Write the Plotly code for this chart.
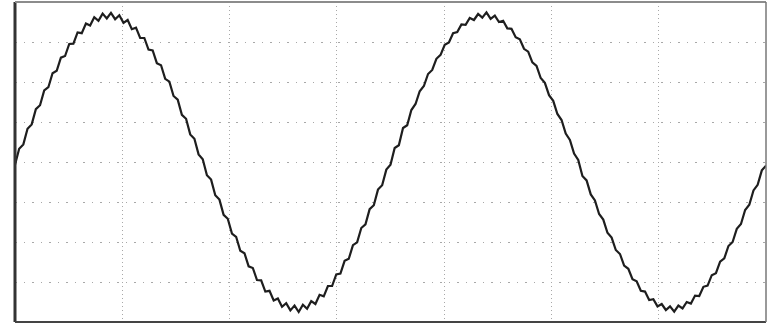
import numpy as np
import plotly.graph_objects as go

# Oscilloscope trace (vertical divisions, centre = 0)
trace_first_cycle = [
    -0.07,
    0.33, 0.44, 0.83, 0.94, 1.32, 1.42, 1.79, 1.87, 2.22, 2.28,
    2.61, 2.65, 2.95, 2.96, 3.24, 3.22, 3.46, 3.41, 3.62, 3.53,
    3.71, 3.59, 3.73, 3.57, 3.67, 3.48, 3.55, 3.32, 3.36, 3.10,
    3.10, 2.81, 2.79, 2.47, 2.42, 2.08, 2.01, 1.65, 1.56, 1.18,
    1.08, 0.69, 0.58, 0.19, 0.07,
    -0.33, -0.44, -0.83, -0.94, -1.32, -1.42, -1.79, -1.87, -2.22, -2.28,
    -2.61, -2.65, -2.95, -2.96, -3.24, -3.22, -3.46, -3.41, -3.62, -3.53,
    -3.71, -3.59, -3.75, -3.57, -3.67, -3.48, -3.55, -3.32, -3.36, -3.10,
    -3.10, -2.81, -2.79, -2.47, -2.42, -2.08, -2.01, -1.65, -1.56, -1.18,
    -1.08, -0.69, -0.58, -0.19, -0.07,
]
trace_second_cycle = [
    0.35, 0.42, 0.85, 0.92, 1.30, 1.45, 1.77, 1.90, 2.20, 2.30,
    2.58, 2.68, 2.93, 2.99, 3.22, 3.25, 3.44, 3.43, 3.60, 3.55,
    3.70, 3.61, 3.74, 3.58, 3.66, 3.50, 3.53, 3.34, 3.33, 3.12,
    3.07, 2.83, 2.76, 2.49, 2.40, 2.10, 1.98, 1.67, 1.53, 1.20,
    1.05, 0.71, 0.55, 0.21, 0.05,
    -0.35, -0.46, -0.81, -0.96, -1.30, -1.44, -1.77, -1.89, -2.20, -2.30,
    -2.59, -2.67, -2.93, -2.98, -3.22, -3.24, -3.45, -3.43, -3.61, -3.55,
    -3.70, -3.61, -3.74, -3.59, -3.66, -3.50, -3.54, -3.34, -3.35, -3.12,
    -3.09, -2.83, -2.78, -2.49, -2.41, -2.10, -2.00, -1.67, -1.55, -1.20,
    -1.07, -0.71, -0.57, -0.21, -0.09,
]
trace_values = trace_first_cycle + trace_second_cycle

# horizontal divisions covered by the screen
time_divs = 7
volt_divs = 8
time_axis = np.linspace(0, time_divs, len(trace_values))

fig = go.Figure()
fig.add_trace(go.Scatter(
    x=time_axis, y=trace_values, mode="lines",
    line=dict(color="#1e1e1e", width=2.2),
    hoverinfo="skip", showlegend=False,
))

fig.update_xaxes(
    range=[0, time_divs], dtick=1, showticklabels=False, ticks="",
    showgrid=True, gridcolor="#a8a8a8", gridwidth=1, griddash="1px,3px",
    zeroline=False, showline=False,
)
fig.update_yaxes(
    range=[-volt_divs / 2, volt_divs / 2], dtick=1, showticklabels=False, ticks="",
    showgrid=True, gridcolor="#a8a8a8", gridwidth=1, griddash="1.5px,7px",
    zeroline=False, showline=False,
)

frame = [
    dict(x0=0, x1=0, y0=0, y1=1, color="#333333", width=3),
    dict(x0=0, x1=1, y0=0, y1=0, color="#444444", width=2),
    dict(x0=0, x1=1, y0=1, y1=1, color="#8c8c8c", width=2),
    dict(x0=1, x1=1, y0=0, y1=1, color="#777777", width=1.5),
]
for s in frame:
    fig.add_shape(type="line", xref="paper", yref="paper",
                  x0=s["x0"], x1=s["x1"], y0=s["y0"], y1=s["y1"],
                  line=dict(color=s["color"], width=s["width"]), layer="above")

fig.update_layout(
    width=767, height=325,
    margin=dict(l=15, r=1, t=2, b=3),
    paper_bgcolor="white", plot_bgcolor="white",
)

fig.write_html(
    "out.html",
    config={"displayModeBar": False, "staticPlot": True},
    post_script="document.body.style.margin='0';document.body.style.overflow='hidden';",
)
